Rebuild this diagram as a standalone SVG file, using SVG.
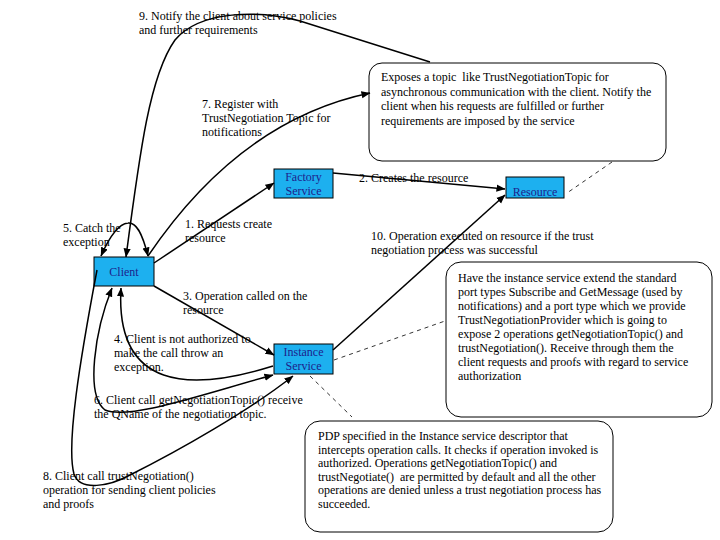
<svg xmlns="http://www.w3.org/2000/svg" width="720" height="540" viewBox="0 0 720 540">
<style>
text { font-family: "Liberation Serif", "Times New Roman", serif; font-size: 12px; fill: #000; }
.node rect { fill: #1db0ef; stroke: #000; stroke-width: 1; }
.node text { fill: #1e1e8c; text-anchor: middle; }
.callout rect { fill: #fff; stroke: #000; stroke-width: 1; }
.conn { fill: none; stroke: #000; stroke-width: 1.5; }
.dash { fill: none; stroke: #000; stroke-width: 0.8; stroke-dasharray: 4 4; }
</style>
<defs>
<marker id="ah" viewBox="0 0 10 10" refX="9.5" refY="5" markerWidth="9" markerHeight="9" markerUnits="userSpaceOnUse" orient="auto-start-reverse">
<path d="M0,1 L10,5 L0,9 z" fill="#000"/>
</marker>
</defs>
<rect width="720" height="540" fill="#fff"/>

<g id="callout-topic" class="callout">
<rect x="369" y="63" width="297" height="98" rx="13"/>
<text x="381" y="81" xml:space="preserve">Exposes a topic  like TrustNegotiationTopic for</text>
<text x="381" y="95.5">asynchronous communication with the client. Notify the</text>
<text x="381" y="110">client when his requests are fulfilled or further</text>
<text x="381" y="124.5">requirements are imposed by the service</text>
</g>
<g id="callout-instance" class="callout">
<rect x="446" y="262" width="266" height="155" rx="15"/>
<text x="458" y="282">Have the instance service extend the standard</text>
<text x="458" y="296">port types Subscribe and GetMessage (used by</text>
<text x="458" y="310">notifications) and a port type which we provide</text>
<text x="458" y="324">TrustNegotiationProvider which is going to</text>
<text x="458" y="338">expose 2 operations getNegotiationTopic() and</text>
<text x="458" y="352">trustNegotiation(). Receive through them the</text>
<text x="458" y="366">client requests and proofs with regard to service</text>
<text x="458" y="380">authorization</text>
</g>
<g id="callout-pdp" class="callout">
<rect x="305" y="421" width="308" height="111" rx="15"/>
<text x="318" y="440">PDP specified in the Instance service descriptor that</text>
<text x="318" y="453.5">intercepts operation calls. It checks if operation invoked is</text>
<text x="318" y="467">authorized. Operations getNegotiationTopic() and</text>
<text x="318" y="480.5" xml:space="preserve">trustNegotiate()  are permitted by default and all the other</text>
<text x="318" y="494">operations are denied unless a trust negotiation process has</text>
<text x="318" y="507.5">succeeded.</text>
</g>

<g id="factory" class="node">
<rect x="274" y="169" width="59" height="29"/>
<text x="303.5" y="181">Factory</text>
<text x="303.5" y="195">Service</text>
</g>
<g id="client" class="node">
<rect x="94" y="257" width="60" height="29"/>
<text x="124" y="276">Client</text>
</g>
<g id="resource" class="node">
<rect x="506" y="177" width="58" height="21"/>
<text x="535" y="196">Resource</text>
</g>
<g id="instance" class="node">
<rect x="274" y="344" width="59" height="30"/>
<text x="303.5" y="356">Instance</text>
<text x="303.5" y="370">Service</text>
</g>

<g id="labels">
<text x="139" y="20">9. Notify the client about service policies</text>
<text x="139" y="34">and further requirements</text>
<text x="202" y="108">7. Register with</text>
<text x="202" y="122">TrustNegotiation Topic for</text>
<text x="202" y="136">notifications</text>
<text x="359" y="182">2. Creates the resource</text>
<text x="185" y="228">1. Requests create</text>
<text x="185" y="242">resource</text>
<text x="63" y="232">5. Catch the</text>
<text x="63" y="246">exception</text>
<text x="371" y="240">10. Operation executed on resource if the trust</text>
<text x="371" y="254">negotiation process was successful</text>
<text x="183" y="300">3. Operation called on the</text>
<text x="183" y="314">resource</text>
<text x="114" y="343">4. Client is not authorized to</text>
<text x="114" y="357">make the call throw an</text>
<text x="114" y="371">exception.</text>
<text x="94" y="404">6. Client call getNegotiationTopic() receive</text>
<text x="94" y="418">the QName of the negotiation topic.</text>
<text x="43" y="480">8. Client call trustNegotiation()</text>
<text x="43" y="494">operation for sending client policies</text>
<text x="43" y="508">and proofs</text>
</g>

<g id="connectors">
<path class="conn" d="M154,263 L274,183" marker-end="url(#ah)"/>
<path class="conn" d="M333,173 L505,189" marker-end="url(#ah)"/>
<path class="conn" d="M154,286 L274,355" marker-end="url(#ah)"/>
<path class="conn" d="M273,366 C190,392 115,390 121,288" marker-end="url(#ah)"/>
<path class="conn" d="M112,288 C95,330 85,395 105,410 C130,420 200,395 273,375" marker-start="url(#ah)" marker-end="url(#ah)"/>
<path class="conn" d="M97,270 C80,360 66,445 74,474 C80,492 110,486 130,475 C180,450 250,410 293,376" marker-end="url(#ah)"/>
<path class="conn" d="M333,350 L505,195" marker-end="url(#ah)"/>
<path class="conn" d="M148,256 Q240,120 370,93" marker-end="url(#ah)"/>
<path class="conn" d="M430,62 L300,21 C260,10 200,10 175,40 C150,75 140,150 126,257" marker-end="url(#ah)"/>
<path class="conn" d="M101,256 C108,240 118,224 128,223 C136,222 142,232 148,256" marker-start="url(#ah)" marker-end="url(#ah)"/>
<path class="dash" d="M612,162 L567,193"/>
<path class="dash" d="M334,360 L445,321"/>
<path class="dash" d="M310,376 L352,417"/>
</g>
</svg>
